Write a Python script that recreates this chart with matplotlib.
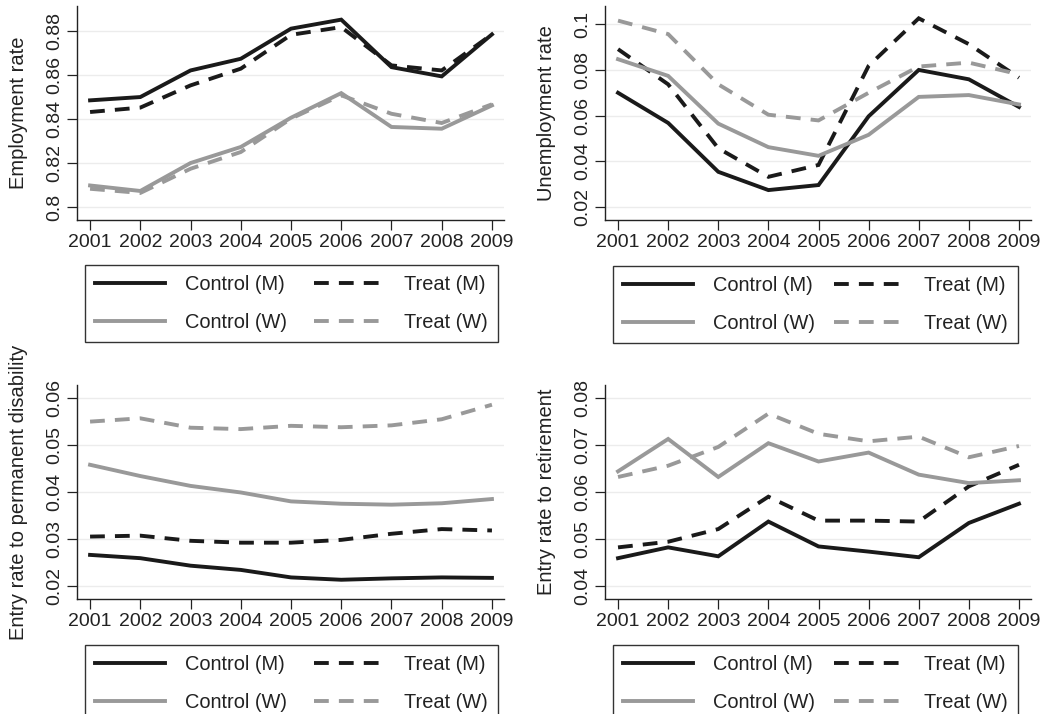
import matplotlib
matplotlib.use('Agg')
import matplotlib.pyplot as plt
from matplotlib.lines import Line2D
from matplotlib.ticker import FixedLocator, FuncFormatter

plt.rcParams['font.family'] = ['Liberation Sans', 'DejaVu Sans']

years = [2001, 2002, 2003, 2004, 2005, 2006, 2007, 2008, 2009]

# employment rate
emp_ctrl_m = [0.8485, 0.8500, 0.8621, 0.8674, 0.8811, 0.8852, 0.8636, 0.8594, 0.8785]
emp_treat_m = [0.8432, 0.8452, 0.8553, 0.8629, 0.8783, 0.8818, 0.8644, 0.8621, 0.8785]
emp_ctrl_w = [0.8098, 0.8073, 0.8200, 0.8273, 0.8406, 0.8518, 0.8364, 0.8356, 0.8462]
emp_treat_w = [0.8083, 0.8064, 0.8174, 0.8250, 0.8402, 0.8508, 0.8424, 0.8382, 0.8467]

# unemployment rate
unemp_ctrl_m = [0.0700, 0.0568, 0.0354, 0.0274, 0.0296, 0.0597, 0.0800, 0.0759, 0.0638]
unemp_treat_m = [0.0891, 0.0737, 0.0457, 0.0332, 0.0384, 0.0818, 0.1026, 0.0913, 0.0766]
unemp_ctrl_w = [0.0847, 0.0774, 0.0565, 0.0462, 0.0424, 0.0516, 0.0682, 0.0690, 0.0649]
unemp_treat_w = [0.1016, 0.0957, 0.0737, 0.0604, 0.0579, 0.0700, 0.0815, 0.0832, 0.0781]

# entry rate to permanent disability
dis_ctrl_m = [0.0266, 0.0259, 0.0243, 0.0234, 0.0218, 0.0213, 0.0216, 0.0218, 0.0217]
dis_treat_m = [0.0305, 0.0307, 0.0296, 0.0292, 0.0292, 0.0298, 0.0311, 0.0321, 0.0318]
dis_ctrl_w = [0.0458, 0.0434, 0.0413, 0.0399, 0.0380, 0.0375, 0.0373, 0.0376, 0.0385]
dis_treat_w = [0.0550, 0.0557, 0.0537, 0.0534, 0.0541, 0.0538, 0.0542, 0.0555, 0.0586]

# entry rate to retirement
ret_ctrl_m = [0.0459, 0.0482, 0.0463, 0.0537, 0.0484, 0.0473, 0.0461, 0.0534, 0.0575]
ret_treat_m = [0.0482, 0.0494, 0.0521, 0.0590, 0.0539, 0.0539, 0.0537, 0.0612, 0.0658]
ret_ctrl_w = [0.0644, 0.0713, 0.0632, 0.0704, 0.0665, 0.0684, 0.0637, 0.0619, 0.0625]
ret_treat_w = [0.0632, 0.0656, 0.0696, 0.0767, 0.0724, 0.0708, 0.0718, 0.0674, 0.0698]

series_labels = ['Control (M)', 'Treat (M)', 'Control (W)', 'Treat (W)']

BLACK = '#1a1a1a'
GRAY = '#999999'
LW = 2.8
DASH = (3.8, 2.6)
styles = [
    dict(color=BLACK, linestyle='-'),
    dict(color=BLACK, linestyle=(0, DASH)),
    dict(color=GRAY, linestyle='-'),
    dict(color=GRAY, linestyle=(0, DASH)),
]

panels = [
    ('Employment rate', [emp_ctrl_m, emp_treat_m, emp_ctrl_w, emp_treat_w],
     [0.80, 0.82, 0.84, 0.86, 0.88], (0.7941, 0.8914)),
    ('Unemployment rate', [unemp_ctrl_m, unemp_treat_m, unemp_ctrl_w, unemp_treat_w],
     [0.02, 0.04, 0.06, 0.08, 0.10], (0.0143, 0.108)),
    ('Entry rate to permanent disability', [dis_ctrl_m, dis_treat_m, dis_ctrl_w, dis_treat_w],
     [0.02, 0.03, 0.04, 0.05, 0.06], (0.0172, 0.0628)),
    ('Entry rate to retirement', [ret_ctrl_m, ret_treat_m, ret_ctrl_w, ret_treat_w],
     [0.04, 0.05, 0.06, 0.07, 0.08], (0.0372, 0.0828)),
]

W, H = 1053, 714
fig = plt.figure(figsize=(W / 100, H / 100), dpi=100)

# axes boxes in pixels: left, top, right, bottom
boxes = [(77, 6, 504, 220), (605, 6, 1031, 220),
         (77, 385, 504, 599), (605, 385, 1031, 599)]
# legend boxes in pixels: left, top, right
leg_boxes = [(85, 265, 498), (613, 266, 1018),
             (85, 645, 498), (613, 645, 1018)]

for (ylabel, data, yticks, ylim), (l, t, r, b), (ll, lt, lr) in zip(panels, boxes, leg_boxes):
    ax = fig.add_axes([l / W, 1 - b / H, (r - l) / W, (b - t) / H])
    for vals, st in zip(data, styles):
        ax.plot(years, vals, linewidth=LW, solid_joinstyle='miter',
                dash_joinstyle='miter', **st)
    ax.set_xlim(2000.74, 2009.24)
    ax.set_ylim(*ylim)
    ax.set_xticks(years)
    ax.yaxis.set_major_locator(FixedLocator(yticks))
    ax.yaxis.set_major_formatter(FuncFormatter(lambda v, p: f'{v:g}'))
    ax.grid(axis='y', color='#ececec', linewidth=1.0, zorder=0)
    ax.set_axisbelow(True)
    for s in ('top', 'right'):
        ax.spines[s].set_visible(False)
    for s in ('left', 'bottom'):
        ax.spines[s].set_color('#222222')
        ax.spines[s].set_linewidth(1.0)
    ax.tick_params(axis='both', direction='out', length=7, width=0.9,
                   color='#222222', labelsize=14, labelcolor='#222222', pad=3)
    ax.tick_params(axis='y', labelrotation=90)
    for lab in ax.get_yticklabels():
        lab.set_va('center')
    ax.set_ylabel(ylabel, fontsize=14.5, color='#222222', labelpad=13)

    handles = [Line2D([], [], linewidth=LW, **st) for st in styles]
    order = [0, 2, 1, 3]
    leg = fig.legend([handles[i] for i in order], [series_labels[i] for i in order],
                     ncol=2, loc='upper left',
                     bbox_to_anchor=(ll / W, 1 - lt / H, (lr - ll) / W, 0.0001),
                     mode='expand', borderaxespad=0, fontsize=14.4,
                     handlelength=3.5, handletextpad=1.0, labelspacing=0.95,
                     borderpad=0.5, fancybox=False, framealpha=1)
    leg.get_frame().set_edgecolor('#333333')
    leg.get_frame().set_linewidth(1.0)
    for txt in leg.get_texts():
        txt.set_color('#222222')

fig.savefig('out.png', dpi=100)
